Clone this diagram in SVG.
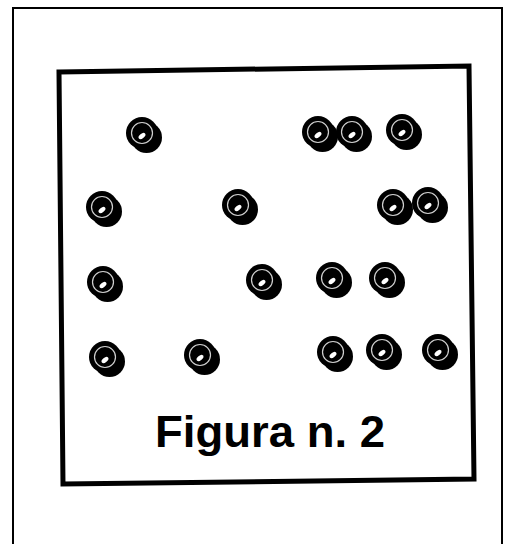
<svg xmlns="http://www.w3.org/2000/svg" xmlns:xlink="http://www.w3.org/1999/xlink" width="510" height="544" viewBox="0 0 510 544">
  <style>
    .frame { fill: none; stroke: #000; stroke-width: 2; }
    .box { fill: none; stroke: #000; stroke-width: 5; stroke-linejoin: miter; }
    .title { font-family: "Liberation Sans", Arial, sans-serif; font-weight: bold; font-size: 45px; fill: #000; }
  </style>
  <defs>
    <g id="ring">
      <circle cx="4.5" cy="4.5" r="15.5" fill="#000"/>
      <circle cx="0" cy="0" r="16" fill="#000"/>
      <circle cx="0" cy="0" r="10.5" fill="none" stroke="#cfcfcf" stroke-width="1.2"/>
      <ellipse cx="0" cy="3" rx="4" ry="2.3" transform="rotate(-40 0 3)" fill="#fff"/>
    </g>
  </defs>
  <rect width="510" height="544" fill="#fff"/>
  <path class="frame" d="M13,546 V8 H502 V546"/>
  <polygon class="box" points="59,72 469,66 474,479 63,484"/>
  <g id="connectors"></g>
  <g id="n1"><use xlink:href="#ring" x="142" y="133"/></g>
  <g id="n2"><use xlink:href="#ring" x="318" y="132"/></g>
  <g id="n3"><use xlink:href="#ring" x="352" y="132"/></g>
  <g id="n4"><use xlink:href="#ring" x="402" y="130"/></g>
  <g id="n5"><use xlink:href="#ring" x="102" y="207"/></g>
  <g id="n6"><use xlink:href="#ring" x="238" y="205"/></g>
  <g id="n7"><use xlink:href="#ring" x="393" y="205"/></g>
  <g id="n8"><use xlink:href="#ring" x="428" y="203"/></g>
  <g id="n9"><use xlink:href="#ring" x="103" y="282"/></g>
  <g id="n10"><use xlink:href="#ring" x="262" y="280"/></g>
  <g id="n11"><use xlink:href="#ring" x="332" y="278"/></g>
  <g id="n12"><use xlink:href="#ring" x="385" y="278"/></g>
  <g id="n13"><use xlink:href="#ring" x="105" y="357"/></g>
  <g id="n14"><use xlink:href="#ring" x="200" y="355"/></g>
  <g id="n15"><use xlink:href="#ring" x="333" y="352"/></g>
  <g id="n16"><use xlink:href="#ring" x="382" y="350"/></g>
  <g id="n17"><use xlink:href="#ring" x="438" y="350"/></g>
  <g id="caption">
    <text class="title" x="155" y="447" textLength="230" lengthAdjust="spacingAndGlyphs">Figura n. 2</text>
  </g>
</svg>
